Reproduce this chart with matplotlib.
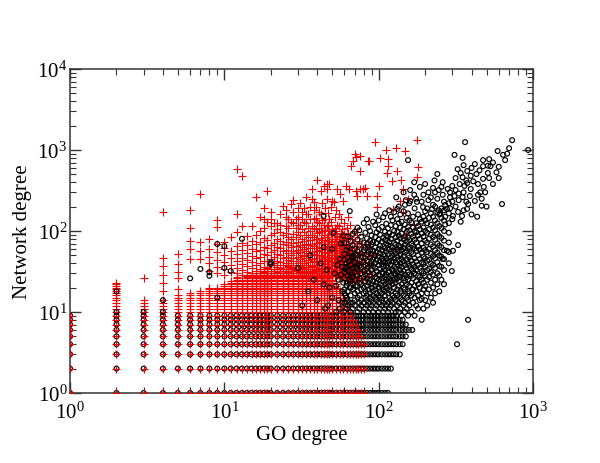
import matplotlib
matplotlib.use("Agg")
import matplotlib.pyplot as plt
from matplotlib.ticker import LogLocator, LogFormatterMathtext, NullFormatter

plt.rcParams['font.family'] = ['Liberation Serif', 'DejaVu Serif']
plt.rcParams['mathtext.fontset'] = 'stix'

# integer levels on which the low-degree points sit
lattice_y = [1, 2, 3, 4, 5, 6, 7, 8, 9, 10, 11, 12, 13, 14, 15, 16, 17, 18, 19, 20,
             21, 22, 23, 24, 25, 26, 27, 28, 29, 30, 32, 34, 36, 38, 40]
lattice_x = [1, 2, 3, 4, 5, 6, 7, 8, 9, 10, 11, 12, 13, 14, 15, 16, 17, 18, 19, 20,
             22, 24, 26, 28, 30, 32, 34, 36, 38, 40, 42, 44, 46, 48, 50, 53, 56, 59,
             62, 65, 68, 71, 74, 77, 80, 84, 88, 92, 96, 100, 105, 110, 115, 120, 125,
             130, 137, 143, 150, 157, 165]

# red "+" : columns filled from 1 up to the given top
red_col_x = [1, 2, 3, 4, 5, 6, 7, 8, 9, 10, 11, 12, 13, 14, 15, 16, 17, 18, 19, 20,
             22, 24, 26, 28, 30, 32, 34, 36, 38, 40, 42, 44, 46, 48, 50, 53, 56, 59,
             62, 65, 68, 71, 74, 77, 80]
red_col_top = [9, 23, 14, 14, 16, 17, 18, 20, 20, 22, 24, 27, 25, 29, 31, 28, 34, 30, 36, 33,
               38, 35, 40, 37, 34, 39, 36, 33, 38, 35, 31, 34, 30, 27, 25, 22, 18, 15,
               12, 10, 8, 7, 6, 5, 4]

# red "+" above the filled columns
red_cloud = [
    (3, [26]), (4, [18, 23, 29, 37, 46, 170]), (5, [19, 26, 31, 39, 52]),
    (6, [45, 60, 75, 110, 180]), (7, [45, 57, 73, 286]), (8, [32, 40, 48, 60, 80]),
    (9, [30, 36, 44, 55, 70, 112, 137]), (10, [29, 34, 41, 50, 62, 73]),
    (11, [31, 38, 46, 57, 85]), (12, [30, 35, 42, 52, 65, 97, 162, 580]),
    (13, [29, 33, 39, 47, 58, 72, 115, 480]), (14, [31, 37, 44, 54, 68, 87]),
    (15, [30, 35, 41, 49, 60, 76, 115]), (16, [32, 38, 46, 56, 70, 90, 262]),
    (17, [29, 34, 40, 48, 59, 74, 100, 150]), (18, [31, 36, 43, 52, 64, 82, 110, 140, 190]),
    (19, [30, 35, 42, 50, 62, 78, 130, 310]), (20, [32, 38, 45, 55, 68, 88, 115, 140, 170]),
    (21, [29, 34, 40, 48, 58, 72, 95, 125]), (22, [31, 36, 43, 52, 64, 80, 105, 125]),
    (23, [30, 35, 41, 50, 61, 76, 98, 120, 160]), (24, [32, 38, 46, 56, 70, 90, 205]),
    (25, [29, 34, 40, 48, 59, 74, 95, 115, 150, 180]), (26, [31, 37, 44, 54, 67, 85, 110, 140]),
    (27, [30, 35, 42, 51, 63, 80, 130, 215]), (28, [32, 38, 46, 57, 71, 92, 125, 170, 240]),
    (29, [33, 43, 53, 66, 84, 110, 140]),
    (30, [29, 34, 40, 48, 59, 74, 96, 120, 150, 190]), (31, [31, 37, 45, 55, 68, 88, 120, 220]),
    (32, [30, 35, 42, 51, 63, 80, 105, 140, 170]), (33, [31, 40, 49, 60, 76, 98, 130, 190]),
    (34, [32, 38, 46, 56, 70, 90, 125, 160, 262]), (35, [28, 36, 44, 54, 67, 85, 110, 160]),
    (36, [29, 34, 41, 50, 62, 78, 100, 140, 200]), (37, [31, 37, 45, 55, 69, 88, 115, 250, 330]),
    (38, [30, 36, 43, 52, 65, 84, 110, 140, 180, 230]), (39, [33, 41, 50, 62, 80, 105, 145, 200]),
    (40, [32, 38, 46, 57, 72, 95, 130, 425]), (41, [30, 38, 47, 58, 74, 96, 125, 170]),
    (42, [29, 35, 42, 51, 64, 82, 110, 160, 310]), (43, [28, 34, 40, 49, 61, 77, 100, 135, 220]),
    (44, [31, 37, 45, 55, 69, 90, 120, 360]), (45, [32, 39, 48, 60, 78, 102, 140, 190]),
    (46, [30, 36, 43, 53, 66, 85, 115, 250, 330, 380]), (47, [29, 35, 44, 55, 70, 90, 120, 165]),
    (48, [32, 39, 48, 60, 76, 100, 140, 380]), (49, [31, 37, 46, 58, 74, 95, 130, 200]),
    (50, [28, 34, 41, 50, 63, 80, 105, 235]), (51, [30, 37, 45, 56, 70, 92, 230]),
    (52, [28, 33, 40, 50, 62, 80, 110, 150]), (53, [31, 38, 47, 59, 76, 100, 180]),
    (54, [29, 35, 43, 53, 67, 86, 120, 330]), (55, [27, 33, 41, 51, 65, 85, 115, 160]),
    (56, [31, 38, 47, 58, 75, 285]), (57, [29, 36, 45, 57, 72, 95, 140]),
    (58, [26, 31, 39, 49, 62, 80, 105]), (59, [28, 34, 42, 52, 66, 88, 235]),
    (60, [28, 35, 44, 55, 70, 92, 125]), (61, [30, 37, 46, 58, 75, 360]),
    (62, [25, 30, 38, 48, 62, 82, 110]), (63, [27, 34, 43, 54, 70, 95, 150]),
    (64, [27, 33, 41, 51, 65, 330]), (65, [26, 32, 40, 50, 64, 85, 120]),
    (66, [29, 36, 45, 57, 630]), (67, [24, 30, 38, 48, 62, 80]), (68, [26, 32, 40, 50, 730]),
    (69, [27, 34, 43, 55, 72, 100]), (70, [28, 35, 44, 890]), (71, [310, 820]),
    (72, [24, 30, 38, 49, 65, 90, 270]), (73, [25, 31, 39]), (75, [26, 33, 42, 55, 75]),
    (76, [330, 550, 850]), (78, [25, 32, 41, 53, 70]), (79, [330]), (81, [340]),
    (82, [27, 35, 46, 60]), (84, [270]), (85, [730]), (86, [30, 40, 52, 70]), (87, [730]),
    (90, [28, 38, 50]), (95, [50, 1250]), (98, [200, 270]), (101, [360]), (102, [800]),
    (110, [40]), (111, [1000]), (113, [520]), (115, [630, 780]), (120, [25]), (122, [410]),
    (124, [188]), (130, [60, 1050]), (132, [550]), (137, [235]), (139, [425]),
    (144, [170, 330]), (148, [970]), (150, [90]), (155, [250]), (170, [120]),
    (178, [460, 1320]), (180, [620]),
]

# black "o" : rows filled from x = 1 up to the given end
black_row_y = [1, 2, 3, 4, 5, 6, 7, 8, 9]
black_row_xmax = [115, 123, 137, 148, 155, 165, 150, 143, 130]

# black "o" above the rows
black_cloud = [
    (2, [10, 18]), (3, [10]), (4, [10, 14]), (6, [26]), (7, [34]), (8, [28, 31]),
    (9, [15, 69]), (10, [35, 65]), (11, [32]), (13, [80]), (20, [39, 41]),
    (30, [35]), (32, [12]), (35, [18]), (36, [50]), (38, [25]), (40, [14]),
    (42, [40]), (44, [22, 63, 153]), (45, [11]), (46, [33]), (47, [12]), (48, [20]),
    (50, [15, 60]), (51, [94]), (52, [30]), (53, [10, 21]), (54, [38]), (55, [25, 14]),
    (56, [45, 11]), (57, [70, 29]), (58, [13, 18, 36]), (59, [87, 23]),
    (60, [10, 13, 17, 19, 26, 31, 44, 52, 71]),
    (61, [16, 34]),
    (62, [11, 15, 21, 23, 36, 40, 58]),
    (63, [12, 14, 18, 28, 33, 47, 63, 85]),
    (64, [25, 42]),
    (65, [176, 13, 20]),
    (66, [10, 16, 20, 24, 29, 38, 54, 75]),
    (67, [31, 47]),
    (68, [11, 13, 19, 22, 27, 35, 45, 49, 67, 92]),
    (70, [12, 14, 17, 25, 31, 41, 60, 98]),
    (71, [21, 36, 52]),
    (73, [10, 15, 18, 21, 28, 34, 39, 50, 56, 78, 110]),
    (75, [11, 13, 16, 23, 26, 37, 44, 66, 102]),
    (77, [12, 14, 19, 22, 30, 35, 48, 53, 85]),
    (80, [10, 13, 17, 20, 27, 32, 41, 58, 72, 125]),
    (82, [11, 15, 18, 24, 29, 38, 46, 62, 95]),
    (84, [12, 14, 16, 21, 26, 34, 43, 51, 69, 81, 140]),
    (86, [10, 13, 19, 23, 31, 36, 55, 64, 112]),
    (88, [11, 15, 17, 25, 28, 39, 47, 59, 76, 100]),
    (90, [12, 14, 20, 22, 33, 42, 52, 68, 88]),
    (92, [10, 13, 16, 18, 24, 30, 37, 45, 57, 73, 130]),
    (95, [11, 15, 19, 21, 27, 35, 40, 50, 63, 84, 118]),
    (97, [12, 14, 17, 23, 26, 32, 44, 55, 71, 96, 160]),
    (100, [10, 13, 16, 20, 25, 29, 38, 48, 60, 78, 105, 135]),
    (102, [11, 15, 18, 22, 28, 34, 42, 53, 66, 90]),
    (105, [12, 14, 17, 21, 26, 31, 39, 46, 58, 74, 112]),
    (107, [10, 13, 19, 24, 30, 36, 43, 51, 64, 82, 148]),
    (110, [11, 16, 18, 22, 27, 33, 41, 49, 61, 77, 98, 165]),
    (112, [12, 14, 20, 25, 29, 37, 45, 56, 70, 88, 123]),
    (115, [10, 13, 17, 23, 31, 35, 40, 52, 67, 85, 108]),
    (117, [11, 15, 19, 21, 26, 32, 43, 59, 73, 94, 180]),
    (120, [12, 14, 18, 24, 28, 38, 47, 55, 65, 80, 118, 150]),
    (123, [9, 13, 16, 22, 27, 33, 42, 50, 62, 90, 135]),
    (126, [11, 15, 20, 25, 30, 36, 46, 57, 71, 100, 170]),
    (129, [10, 14, 17, 23, 29, 34, 41, 53, 68, 84, 115]),
    (130, [260]),
    (132, [12, 16, 19, 26, 31, 39, 48, 60, 76, 97, 140, 187]),
    (135, [10, 13, 21, 24, 28, 37, 44, 56, 66, 88, 125, 200]),
    (138, [11, 15, 18, 27, 33, 40, 51, 63, 81, 110, 160]),
    (141, [9, 14, 17, 22, 30, 36, 45, 58, 72, 93, 130]),
    (145, [12, 16, 20, 26, 32, 42, 49, 62, 79, 105, 175, 300]),
    (148, [10, 13, 19, 24, 29, 38, 54, 68, 86, 120, 210]),
    (150, [240]),
    (152, [11, 15, 22, 27, 35, 44, 57, 74, 98, 145]),
    (155, [9, 14, 18, 25, 31, 40, 50, 63, 83, 112, 165, 750]),
    (158, [12, 17, 21, 29, 37, 47, 60, 77, 102, 135, 220]),
    (160, [235, 320]),
    (163, [10, 16, 23, 28, 34, 43, 55, 70, 92, 128]),
    (167, [13, 19, 26, 32, 39, 52, 66, 85, 110, 150]),
    (170, [280, 400]),
    (171, [9, 15, 21, 30, 36, 46, 61, 78, 100, 190]),
    (175, [12, 18, 24, 33, 42, 57, 72, 96, 125, 250]),
    (177, [229]),
    (180, [11, 16, 22, 28, 38, 50, 64, 88, 115, 160]),
    (185, [14, 20, 27, 35, 45, 59, 80, 105, 140, 350]),
    (190, [8, 14.5, 17, 25, 32, 41, 54, 70, 93, 130, 230]),
    (194, [197]),
    (195, [11, 19, 23, 30, 39, 48, 62, 85, 110, 150, 280]),
    (200, [14, 21, 28, 36, 46, 58, 76, 100, 135, 175, 380]),
    (206, [12, 17, 25, 33, 43, 55, 72, 95, 125, 190]),
    (210, [240, 300]),
    (212, [19, 27, 34, 44, 60, 80, 105, 145]),
    (218, [15, 23, 31, 40, 52, 68, 90, 120, 165, 260]),
    (222, [187]),
    (225, [13, 20, 29, 38, 49, 64, 84, 110, 150, 210, 340]),
    (230, [420]),
    (232, [17, 25, 35, 46, 58, 78, 102, 135, 200, 300]),
    (240, [22, 30, 41, 54, 70, 92, 125, 170, 250, 505]),
    (245, [180, 320]),
    (247, [18, 28, 37, 50, 66, 86, 115, 160]),
    (250, [163]), (255, [25, 36, 48, 63, 82, 108, 145, 190, 350]),
    (260, [45, 280, 400]), (265, [22, 33, 45, 58, 76, 100, 135, 180, 230]),
    (270, [120, 150, 210]), (277, [57, 187]), (280, [330]),
    (285, [40, 55, 72, 95, 125, 165, 220]), (290, [190, 260, 300]), (298, [32]),
    (300, [140, 230, 360]), (303, [57, 153]), (310, [270, 870]), (315, [200, 320, 450]),
    (322, [4]), (325, [580]), (327, [67, 172]), (330, [240, 290]), (335, [380]),
    (340, [130, 520]), (347, [153]), (350, [262, 460, 800]), (355, [180, 300, 650]),
    (360, [360]), (363, [1250]), (370, [230, 420]), (374, [187]), (375, [390, 550]),
    (380, [8, 215]), (390, [270]), (395, [330, 480]), (400, [160, 600]), (410, [410]),
    (420, [235, 670]), (430, [505]), (435, [150]), (440, [280, 380]), (450, [560]),
    (455, [300]), (465, [205, 250]), (475, [440, 630, 750]), (480, [350]), (490, [300]),
    (500, [200]), (510, [520, 640]), (520, [450, 770]), (530, [630]), (550, [380, 700]),
    (580, [530]), (590, [970]), (600, [450, 620]), (630, [215]), (640, [870]),
    (660, [750]), (680, [900]), (700, [1050]), (733, [1320]), (930, [1000]),
]

red_x, red_y = [], []
for cx, top in zip(red_col_x, red_col_top):
    for ly in lattice_y:
        if ly <= top:
            red_x.append(cx)
            red_y.append(ly)
for cx, ys in red_cloud:
    red_x += [cx] * len(ys)
    red_y += ys

row_x, row_y = [], []
for ry, xmax in zip(black_row_y, black_row_xmax):
    for lx in lattice_x:
        if lx <= xmax:
            row_x.append(lx)
            row_y.append(ry)
black_x, black_y = [], []
for cx, ys in black_cloud:
    black_x += [cx] * len(ys)
    black_y += ys

fig = plt.figure(figsize=(6, 4.64), dpi=100)
ax = fig.add_axes([0.1167, 0.1509, 0.7716, 0.6983])

circle = dict(marker='o', s=12, facecolors='none', edgecolors='black', linewidths=0.85)
ax.scatter(row_x, row_y, zorder=2, **circle)
ax.scatter(red_x, red_y, marker='+', s=38, c='#f00000', linewidths=0.8, zorder=3)
ax.scatter(black_x, black_y, zorder=4, **circle)

ax.set_xscale('log')
ax.set_yscale('log')
ax.set_xlim(1, 1000)
ax.set_ylim(1, 10000)

for axis in (ax.xaxis, ax.yaxis):
    axis.set_major_locator(LogLocator(base=10))
    axis.set_minor_locator(LogLocator(base=10, subs=range(2, 10)))
    axis.set_major_formatter(LogFormatterMathtext())
    axis.set_minor_formatter(NullFormatter())

ax.tick_params(which='both', direction='in', top=True, right=True, colors='#333333',
               labelcolor='black', labelsize=15)
ax.tick_params(which='major', length=8, width=1)
ax.tick_params(which='minor', length=4.5, width=0.8)
ax.tick_params(axis='x', pad=6)
ax.tick_params(axis='y', pad=2)
for sp in ax.spines.values():
    sp.set_color('#333333')
    sp.set_linewidth(1.1)

ax.set_xlabel('GO degree', fontsize=15, labelpad=2)
ax.set_ylabel('Network degree', fontsize=15, labelpad=4)

fig.savefig('out.png', dpi=100)
